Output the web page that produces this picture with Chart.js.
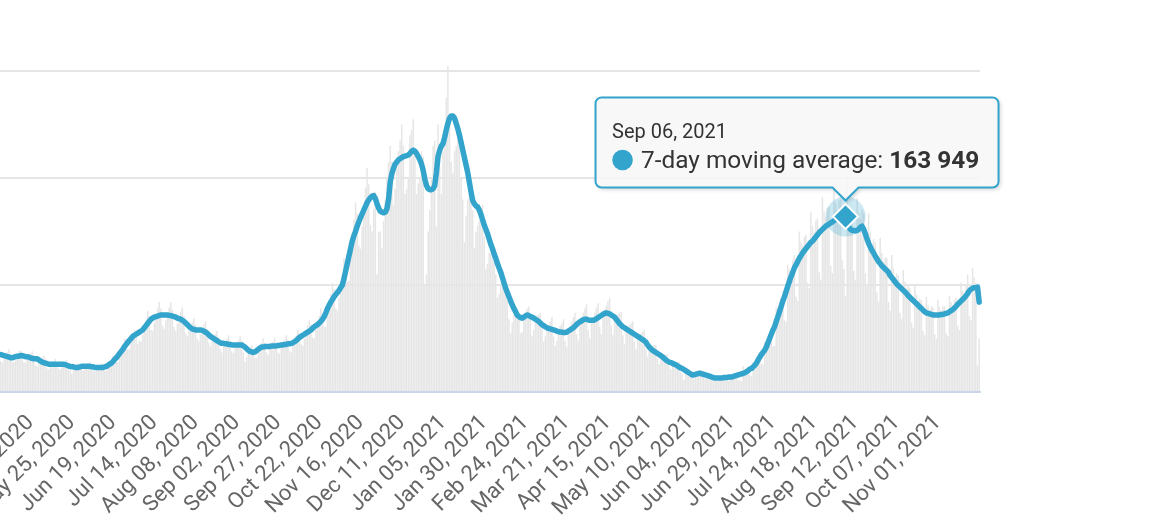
<!DOCTYPE html>
<html>
<head>
<meta charset="utf-8">
<script src="https://cdn.jsdelivr.net/npm/chart.js@4.4.0/dist/chart.umd.min.js"></script>
<style>
html,body{margin:0;padding:0;background:#fff;overflow:hidden;width:1156px;height:528px;}
#wrap{position:absolute;left:-100px;top:-60px;width:1256px;height:588px;}
</style>
</head>
<body>
<div id="wrap"><canvas id="c"></canvas></div>
<script>
// ---- data (values in thousands of cases) ----
const startDate = [2020, 3, 12]; // Apr 12, 2020 (first day shown)
const seriesName = '7-day moving average';
const highlightDate = 'Sep 06, 2021';
const tickLabels = ['Apr 30, 2020','May 25, 2020','Jun 19, 2020','Jul 14, 2020','Aug 08, 2020','Sep 02, 2020','Sep 27, 2020','Oct 22, 2020','Nov 16, 2020','Dec 11, 2020','Jan 05, 2021','Jan 30, 2021','Feb 24, 2021','Mar 21, 2021','Apr 15, 2021','May 10, 2021','Jun 04, 2021','Jun 29, 2021','Jul 24, 2021','Aug 18, 2021','Sep 12, 2021','Oct 07, 2021','Nov 01, 2021'];
const avgCasesK = [
35,34.5,34,33.5,33,32.5,32,
32,32.5,33,33.5,33.5,34,34,
33.5,33,33,32.5,32,31.5,31,
31,31,30,29,28,27.5,27,
26.5,26,26,26,26,26,26,
26,26,26,26,25.5,25,24.5,
24,23.5,23.5,23,23,23,23.5,
24,24,24,24,24,24,23.5,
23.5,23,23,23,23,23,23,
23.5,24,25,26,27,28.5,30.5,
32,34,36,38,40,42.5,44.5,
46.5,48.5,50,52,53,54,55,
56,57,58,60,62,64,66,
68,69,70,70.5,71,71.5,72,
72,72,72,72,71.5,71.5,71,
70.5,70,69,68.5,68,67,66,
64.5,63,61.5,60,59,58.5,58,
58,58,58,57.5,57,56,55,
53.5,52,51,50,49,48,47,
46,45.5,45.5,45,45,44.5,44.5,
44,44,44,44,44,44,44,
43,42,40.5,39,38,37.5,37,
37.5,38.5,40,41,42,42,42.5,
42.5,42.5,42.5,43,43,43,43,
43.5,43.5,44,44,44.5,44.5,45,
45,45.5,46,47,48,49.5,51,
52,53,54,55,56,57,58,
59.5,61,62,63,64.5,66,68,
70.5,74,78,81,84,86.5,89,
91,93,95,97.5,100,106,113,
120,127,134,141,146,150,155,
159,163,166.5,170,173.5,177,179.5,
181.5,183,183.5,181,176,172,169,
168,167.5,168,171,180,196,204,
209,213,215,217,218,219,220,
220.5,221,221.5,223,225,226,225,
223,220,217,213,207,199,193,
190,189,189,190,193,205,220,
226,230,232,238,245,251,256,
258,258,256,251,246,240,233,
226,219,212,205,196,187,179,
176,174,173,170,166,161,156,
152,148,143,138,134,129,125,
120,116,112,107,102,97,93,
89,85,81.5,78,75,72,70.5,
69.5,69,70,71,72,71.5,70.5,
70,69,68,67,66,64.5,63,
62,61,60,59.5,59,58.5,58,
57.5,57,56.5,56,56,55.5,55.5,
56,57,58,59,60,61.5,63,
64.5,65.5,66.5,67.5,68,68,67.5,
67,67,67,67.5,68.5,69.5,70.5,
71.5,72.5,73.5,74,73.5,73,72,
71,70,68,66,64,62.5,61,
60,59,58,57,56,55,54,
53,52,51,50,49,48,46.5,
44,42,40.5,39,38,37,36,
35,34,33,31.5,30,29,28,
27.5,27,26,25.5,24.5,23.5,22.5,
22,21,20,19,18,17,16,
16,16.5,17,17.5,17.5,17,16.5,
16,15.5,15,14.5,14,13.5,13,
13,13,13,13,13.5,13.5,13.5,
14,14,14,14.5,15,15.5,16,
16.5,17,17.5,18,19,20,21.5,
22,23.5,25,27,30,32.5,35,
37,39,42,46,50,54,58,
61,66,70.5,75,80,85,89,
94,99,103.5,108,112,116,119,
122,125,127.5,130,132,134,136,
138,140,141,143,145,147,149,
150.5,152,153.5,155,156,157,158,
159,160,161,162,163,163.5,164,
164,163.949,158,154,152,151,151,
150.5,151,152,154,155,152,148,
143,139,135.5,132.5,130,127,124.5,
122,120,118,116.5,115,113.5,112,
109,107,105,103,101,99.5,98,
96.5,95,93.5,92,90,88.5,87,
85.5,84,82.5,81,79.5,78,76.5,
75,74,73.5,73,72.5,72,72,
72,72,72,72.5,72.5,73,73.5,
74,75,76,77,78.5,80,82,
83.5,85,86.5,88,90,92,94.5,
96,97,97.5,97.5,98,84
];
const dailyCasesK = [
29,27,31,35,37,40,36,
28,28,30,34,38,39,35,
28,27,30,33,36,38,35,
25,24,27,30,32,34,31,
22,21,24,27,29,31,28,
22,21,24,27,28,30,27,
20,17,20,24,26,27,25,
21,20,22,25,26,28,26,
20,19,21,24,25,27,25,
20,20,23,27,30,34,33,
28,28,33,39,44,50,48,
40,40,47,54,58,55,45,
48,47,54,62,68,76,71,
58,57,65,73,78,84,78,
62,59,67,74,79,84,77,
61,57,64,71,75,79,71,
55,52,57,62,65,69,63,
50,48,54,59,63,66,59,
46,43,47,52,54,57,51,
40,37,42,46,50,53,48,
38,36,41,45,48,52,48,
37,28,33,40,42,44,40,
32,32,37,42,46,50,46,
37,35,40,44,47,51,46,
37,36,41,45,49,53,49,
39,37,43,48,53,58,55,
45,43,50,57,62,67,63,
51,50,58,65,71,78,73,
61,61,73,83,92,102,96,
78,76,88,100,110,125,122,
103,104,125,145,161,177,167,
137,134,155,175,191,209,194,
156,150,171,187,110,150,150,
134,160,180,200,215,230,215,
175,190,210,225,235,250,230,
185,190,200,240,245,255,225,
185,195,200,225,220,100,110,
150,170,200,230,235,155,250,
210,185,225,250,275,305,260,
215,205,225,230,240,245,200,
180,140,165,180,195,195,170,
135,150,155,160,170,175,145,
115,120,130,130,130,135,110,
88,92,100,105,105,100,85,
68,55,65,72,80,78,70,
55,56,70,75,78,80,72,
52,58,68,72,72,74,60,
47,52,57,63,66,70,52,
43,48,55,62,64,68,48,
42,54,60,66,70,74,54,
48,62,70,74,78,82,58,
50,64,70,74,79,83,61,
54,69,77,81,85,88,62,
53,66,71,73,74,75,53,
45,56,61,63,64,66,47,
40,49,54,55,56,58,40,
33,40,43,43,44,44,31,
26,32,35,35,35,35,24,
21,26,27,28,28,28,19,
17,11,22,21,21,20,14,
12,16,18,19,20,20,14,
12,15,16,16,16,16,11,
10,12,14,14,15,16,11,
10,17,15,15,17,15,11,
11,10,24,20,21,22,16,
15,28,28,28,33,36,26,
26,47,46,48,55,59,43,
43,79,78,79,88,94,67,
66,119,114,113,123,128,89,
85,150,140,137,145,147,102,
97,168,155,150,160,162,112,
105,182,169,163,172,173,118,
111,192,177,170,179,180,123,
115,90,200,162,167,166,113,
105,181,167,162,170,167,111,
100,167,149,139,143,140,93,
85,144,130,122,126,125,84,
76,128,116,108,111,109,74,
68,114,103,97,99,97,65,
60,101,91,85,87,86,57,
53,89,81,77,80,79,54,
50,86,79,76,80,80,55,
52,90,84,81,86,88,62,
58,102,95,92,99,110,71,
67,116,107,102,25,50
];

// ---- build category labels (one per day) ----
const MONTHS = ['Jan','Feb','Mar','Apr','May','Jun','Jul','Aug','Sep','Oct','Nov','Dec'];
const categories = avgCasesK.map((_, i) => {
  const d = new Date(Date.UTC(startDate[0], startDate[1], startDate[2] + i));
  return MONTHS[d.getUTCMonth()] + ' ' + String(d.getUTCDate()).padStart(2, '0') + ', ' + d.getUTCFullYear();
});
const tickSet = new Set(tickLabels);
const hlIndex = categories.indexOf(highlightDate);

const COLOR = '#33a4cc';
const FONT = 'Roboto, "Noto Sans", sans-serif';

function fmt(vK) {
  return String(Math.round(vK * 1000)).replace(/\B(?=(\d{3})+(?!\d))/g, ' ');
}

function tipPath(ctx, bx, by, bw, bh, r, cx, cw, ch) {
  const bb = by + bh;
  ctx.moveTo(bx + r, by);
  ctx.lineTo(bx + bw - r, by);
  ctx.arcTo(bx + bw, by, bx + bw, by + r, r);
  ctx.lineTo(bx + bw, bb - r);
  ctx.arcTo(bx + bw, bb, bx + bw - r, bb, r);
  ctx.lineTo(cx + cw, bb);
  ctx.lineTo(cx, bb + ch);
  ctx.lineTo(cx - cw, bb);
  ctx.lineTo(bx + r, bb);
  ctx.arcTo(bx, bb, bx, bb - r, r);
  ctx.lineTo(bx, by + r);
  ctx.arcTo(bx, by, bx + r, by, r);
  ctx.closePath();
}

const hoverPlugin = {
  id: 'hoverTip',
  afterDatasetDraw(chart, args) {
    if (args.index !== 1 || hlIndex < 0) return;
    const pt = chart.getDatasetMeta(0).data[hlIndex];
    const ctx = chart.ctx;
    ctx.save();
    ctx.beginPath();
    ctx.arc(pt.x, pt.y, 20, 0, Math.PI * 2);
    ctx.fillStyle = 'rgba(51,164,204,0.25)';
    ctx.fill();
    ctx.restore();
  },
  afterDraw(chart) {
    if (hlIndex < 0) return;
    const pt = chart.getDatasetMeta(0).data[hlIndex];
    const ctx = chart.ctx;
    const bw = 403, bh = 90, r = 6;
    const bx = pt.x - 250, by = pt.y - 119;
    const cx = pt.x, ch = 13, cw = 13;
    // shadow only outside the box
    ctx.save();
    ctx.beginPath();
    ctx.rect(0, 0, chart.width, chart.height);
    tipPath(ctx, bx, by, bw, bh, r, cx, cw, ch);
    ctx.clip('evenodd');
    ctx.beginPath();
    tipPath(ctx, bx, by, bw, bh, r, cx, cw, ch);
    ctx.shadowColor = 'rgba(0,0,0,0.18)';
    ctx.shadowOffsetX = 2;
    ctx.shadowOffsetY = 2;
    ctx.shadowBlur = 4;
    ctx.fillStyle = '#ffffff';
    ctx.fill();
    ctx.restore();

    ctx.save();
    ctx.beginPath();
    tipPath(ctx, bx, by, bw, bh, r, cx, cw, ch);
    ctx.fillStyle = 'rgba(247,247,247,0.85)';
    ctx.fill();
    ctx.lineWidth = 2;
    ctx.strokeStyle = COLOR;
    ctx.stroke();

    ctx.textBaseline = 'alphabetic';
    ctx.textAlign = 'left';
    ctx.fillStyle = '#333333';
    ctx.font = '20px ' + FONT;
    ctx.fillText(categories[hlIndex], bx + 16.5, by + 40.5);

    ctx.beginPath();
    ctx.arc(bx + 27, by + 62.5, 10.3, 0, Math.PI * 2);
    ctx.fillStyle = COLOR;
    ctx.fill();

    ctx.fillStyle = '#333333';
    ctx.font = '24.4px ' + FONT;
    const lbl = seriesName + ': ';
    ctx.fillText(lbl, bx + 45.5, by + 70.5);
    const w = ctx.measureText(lbl).width;
    ctx.font = 'bold 24.4px ' + FONT;
    ctx.fillText(fmt(avgCasesK[hlIndex]), bx + 45.5 + w, by + 70.5);
    ctx.restore();
  }
};

new Chart(document.getElementById('c'), {
  type: 'bar',
  data: {
    labels: categories,
    datasets: [
      {
        type: 'line',
        label: seriesName,
        data: avgCasesK,
        order: 0,
        borderColor: COLOR,
        borderWidth: 5.5,
        borderJoinStyle: 'round',
        borderCapStyle: 'round',
        tension: 0,
        fill: false,
        pointStyle: 'rectRot',
        pointRadius: (c) => (c.dataIndex === hlIndex ? 12.5 : 0),
        pointHoverRadius: 0,
        pointBackgroundColor: COLOR,
        pointBorderColor: '#ffffff',
        pointBorderWidth: 2
      },
      {
        type: 'bar',
        label: 'Daily cases',
        data: dailyCasesK,
        order: 1,
        backgroundColor: '#e6e6e6',
        borderWidth: 0,
        barPercentage: 0.92,
        categoryPercentage: 1
      }
    ]
  },
  options: {
    responsive: true,
    maintainAspectRatio: false,
    animation: false,
    events: [],
    layout: { padding: { left: 100, right: 176, top: 24, bottom: 0 } },
    plugins: { legend: { display: false }, tooltip: { enabled: false }, title: { display: false } },
    scales: {
      x: {
        offset: true,
        grid: { display: false, drawTicks: false },
        border: { display: true, color: '#ccd6eb', width: 2 },
        ticks: {
          autoSkip: false,
          maxRotation: 45,
          minRotation: 45,
          padding: 18,
          color: '#666666',
          font: { family: FONT, size: 22 },
          callback: function (v, i) { const l = categories[i]; return tickSet.has(l) ? l : ''; }
        },
        afterFit(s) { s.height = 136; s.paddingLeft = 0; s.paddingRight = 0; }
      },
      y: {
        z: 1,
        min: 0,
        max: 400,
        ticks: { display: false, stepSize: 100 },
        grid: { color: (c) => (c.tick && c.tick.value === 0 ? 'rgba(0,0,0,0)' : 'rgba(0,0,0,0.1)'), lineWidth: 2, drawTicks: false },
        border: { display: false },
        afterFit(s) { s.width = 0; }
      }
    }
  },
  plugins: [hoverPlugin]
});
</script>
</body>
</html>
